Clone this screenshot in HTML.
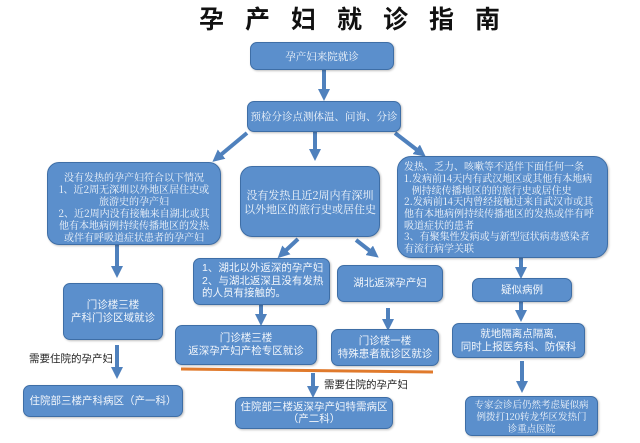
<!DOCTYPE html>
<html><head><meta charset="utf-8"><style>
body{margin:0;width:640px;height:443px;background:#fff;position:relative;overflow:hidden;font-family:"Liberation Sans","Noto Sans CJK SC",sans-serif}
.b{position:absolute;background:#5b8fcc;border:1.5px solid #3e6ea6;border-radius:7px;color:#f2f6fb;font-size:10.5px;line-height:13px;display:flex;align-items:center;justify-content:center;text-align:center;box-sizing:border-box;box-shadow:1px 1px 2px rgba(0,0,0,.25);white-space:nowrap}
.s{font-family:"Noto Serif CJK SC",serif}
.l{justify-content:flex-start;text-align:left;padding-left:8px}
.t{position:absolute;font-size:10.5px;color:#222}
</style></head><body>
<div style="position:absolute;left:199px;top:5px;font-size:25px;letter-spacing:21px;font-weight:bold;color:#111;line-height:30px;white-space:nowrap">孕产妇就诊指南</div>
<svg width="640" height="443" style="position:absolute;left:0;top:0">
<defs><marker id="a" markerWidth="3" markerHeight="3" refX="1.5" refY="1.5" orient="auto" markerUnits="strokeWidth"><path d="M0,0L3,1.5L0,3z" fill="#4f81bd"/></marker></defs>
<g stroke="#4f81bd" stroke-width="4" marker-end="url(#a)">
<line x1="324" y1="70" x2="324" y2="95"/>
<line x1="247" y1="133" x2="217" y2="158"/>
<line x1="315" y1="132" x2="315" y2="155"/>
<line x1="395" y1="133" x2="421" y2="153"/>
<line x1="117" y1="245" x2="117" y2="272"/>
<line x1="298" y1="239" x2="282" y2="254"/>
<line x1="356" y1="240" x2="374" y2="254"/>
<line x1="521" y1="258" x2="521" y2="273"/>
<line x1="261" y1="305" x2="261" y2="320"/>
<line x1="388" y1="308" x2="388" y2="325"/>
<line x1="521" y1="302" x2="521" y2="316"/>
<line x1="117" y1="345" x2="117" y2="373"/>
<line x1="313" y1="373" x2="313" y2="392"/>
<line x1="522" y1="361" x2="522" y2="387"/>
</g>
<line x1="181" y1="369" x2="433" y2="372" stroke="#e07a2c" stroke-width="3"/>
</svg>
<div class="b s" style="left:250px;top:42px;width:144px;height:28px">孕产妇来院就诊</div>
<div class="b s" style="left:247px;top:101px;width:154px;height:31px">预检分诊点测体温、问询、分诊</div>
<div class="b s" style="left:47px;top:162px;width:174px;height:83px;font-size:10px;line-height:12px;border-radius:12px;align-items:flex-end;padding-bottom:1px">没有发热的孕产妇符合以下情况<br>1、近2周无深圳以外地区居住史或<br>旅游史的孕产妇<br>2、近2周内没有接触来自湖北或其<br>他有本地病例持续传播地区的发热<br>或伴有呼吸道症状患者的孕产妇</div>
<div class="b s" style="left:240px;top:166px;width:140px;height:71px;font-size:11px;line-height:14px;border-radius:12px">没有发热且近2周内有深圳<br>以外地区的旅行史或居住史</div>
<div class="b s l" style="left:397px;top:156px;width:211px;height:102px;font-size:10px;line-height:11.7px;border-radius:14px;padding-left:6px">发热、乏力、咳嗽等不适伴下面任何一条<br>1.发病前14天内有武汉地区或其他有本地病<br>&nbsp;&nbsp;&nbsp;例持续传播地区的的旅行史或居住史<br>2.发病前14天内曾经接触过来自武汉市或其<br>他有本地病例持续传播地区的发热或伴有呼<br>吸道症状的患者<br>3、有聚集性发病或与新型冠状病毒感染者<br>有流行病学关联</div>
<div class="b" style="left:63px;top:283px;width:100px;height:57px">门诊楼三楼<br>产科门诊区域就诊</div>
<div class="b l" style="left:193px;top:258px;width:137px;height:47px;align-items:flex-start;padding-top:3px;line-height:12.5px">1、湖北以外返深的孕产妇<br>2、与湖北返深且没有发热<br>的人员有接触的。</div>
<div class="b" style="left:337px;top:265px;width:106px;height:37px">湖北返深孕产妇</div>
<div class="b" style="left:472px;top:278px;width:100px;height:24px">疑似病例</div>
<div class="b" style="left:175px;top:325px;width:142px;height:40px">门诊楼三楼<br>返深孕产妇产检专区就诊</div>
<div class="b" style="left:331px;top:329px;width:108px;height:37px">门诊楼一楼<br>特殊患者就诊区就诊</div>
<div class="b" style="left:452px;top:323px;width:133px;height:35px">就地隔离点隔离,<br>同时上报医务科、防保科</div>
<div class="t" style="left:29px;top:351px">需要住院的孕产妇</div>
<div class="t" style="left:324px;top:377px">需要住院的孕产妇</div>
<div class="b" style="left:23px;top:385px;width:160px;height:32px">住院部三楼产科病区（产一科）</div>
<div class="b" style="left:235px;top:397px;width:158px;height:32px;line-height:12px">住院部三楼返深孕产妇特需病区<br>（产二科）</div>
<div class="b s" style="left:465px;top:396px;width:133px;height:40px;font-size:9.5px;line-height:12px">专家会诊后仍然考虑疑似病<br>例拨打120转龙华区发热门<br>诊重点医院</div>
</body></html>
